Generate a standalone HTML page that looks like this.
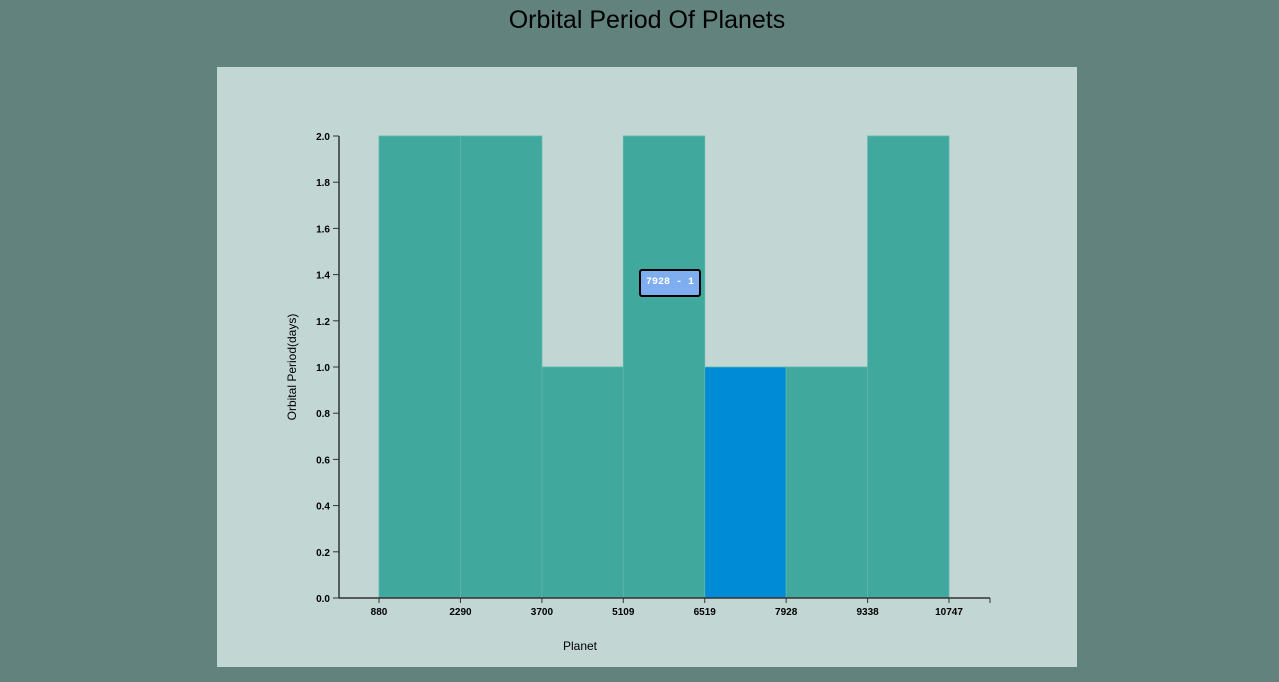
<!DOCTYPE html>
<html><head><meta charset="utf-8"><style>
html,body{margin:0;padding:0;width:1279px;height:682px;background:#62827e;overflow:hidden;font-family:"Liberation Sans",sans-serif}
#title{position:absolute;left:0;width:1294px;top:6px;text-align:center;font-size:25px;color:#000}
#panel{position:absolute;left:217px;top:67px;width:860px;height:600px;background:#c2d6d4}
svg{position:absolute;left:0;top:0}
#tip{position:absolute;left:639px;top:269px;width:62px;height:28px;background:#7eaef0;border:2px solid #000;border-radius:3px;box-sizing:border-box;font-family:"Liberation Mono",monospace;font-size:10px;font-weight:bold;color:#fff;line-height:24px;text-align:center;white-space:pre}
</style></head><body>
<div id="title">Orbital Period Of Planets</div>
<div id="panel"></div>
<svg id="chart" width="1279" height="682"></svg>
<div id="tip">7928 - 1</div>
<script>
const binEdges=[880,2290,3700,5109,6519,7928,9338,10747];
const counts=[2,2,1,2,1,1,2];
const yTicks=[0,0.2,0.4,0.6,0.8,1.0,1.2,1.4,1.6,1.8,2.0];
const highlightIndex=4;
const NS="http://www.w3.org/2000/svg";
const svg=document.getElementById('chart');
const x0=379,x1=949,yb=598,yt=136;
const xs=v=>x0+(v-binEdges[0])/(binEdges[binEdges.length-1]-binEdges[0])*(x1-x0);
const ys=v=>yb-v/2*(yb-yt);
function mk(t,a){const e=document.createElementNS(NS,t);for(const k in a)e.setAttribute(k,a[k]);svg.appendChild(e);return e;}
counts.forEach((c,i)=>{
 const r=mk('rect',{x:xs(binEdges[i]),y:ys(c),width:xs(binEdges[i+1])-xs(binEdges[i]),height:yb-ys(c),fill:i===highlightIndex?'#008bd6':'#40a89c',stroke:'#5cb8ac','stroke-width':0.8});
 
 
});
mk('line',{x1:339,y1:yt,x2:339,y2:yb,stroke:'#333','stroke-width':1.5});
mk('line',{x1:339,y1:yb,x2:990,y2:yb,stroke:'#333','stroke-width':1.5});
mk('line',{x1:990,y1:yb,x2:990,y2:yb+5,stroke:'#333'});
yTicks.forEach(v=>{
 mk('line',{x1:333,y1:ys(v),x2:339,y2:ys(v),stroke:'#333'});
 const t=mk('text',{x:330,y:ys(v)+4,'text-anchor':'end','font-size':10,'font-weight':'bold',fill:'#000'});
 t.textContent=v.toFixed(1);
 
 
});
binEdges.forEach(v=>{
 mk('line',{x1:xs(v),y1:yb,x2:xs(v),y2:yb+5,stroke:'#333'});
 const t=mk('text',{x:xs(v),y:yb+17,'text-anchor':'middle','font-size':10,'font-weight':'bold',fill:'#000'});
 t.textContent=v;
 
 
});
const xl=mk('text',{x:580,y:650,'text-anchor':'middle','font-size':12,fill:'#000'});xl.textContent='Planet';


const yl=mk('text',{x:0,y:0,'text-anchor':'middle','font-size':12,fill:'#000',transform:'translate(296,367) rotate(-90)'});yl.textContent='Orbital Period(days)';


</script>
</body></html>
